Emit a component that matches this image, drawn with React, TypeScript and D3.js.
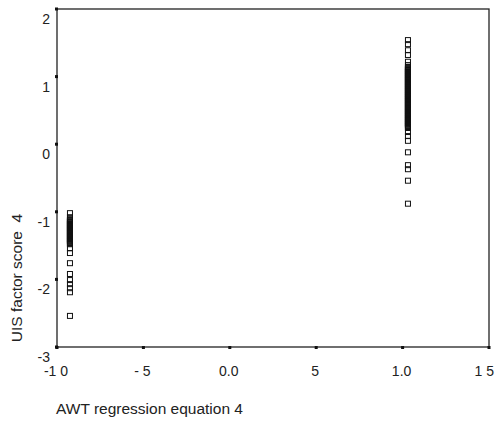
import React from "react";
import * as d3 from "d3";

const xTickValues = [-1, -0.5, 0, 0.5, 1, 1.5];
const xTickLabels = ["-1 0", "- 5", "0.0", "5", "1.0", "1 5"];
const yTickValues = [-3, -2, -1, 0, 1, 2];
const yTickLabels = ["-3", "-2", "-1", "0", "1", "2"];

const xTitle = "AWT regression equation 4";
const yTitle = "UIS factor score  4";

// group 1: AWT ≈ -0.925
const lowX = -0.925;
const lowScores = [
  -1.02, -1.08, -1.11, -1.12, -1.13, -1.14, -1.15, -1.16, -1.17, -1.18, -1.19,
  -1.2, -1.21, -1.22, -1.23, -1.24, -1.25, -1.26, -1.27, -1.28, -1.29, -1.3,
  -1.31, -1.32, -1.33, -1.34, -1.35, -1.36, -1.37, -1.38, -1.39, -1.4, -1.41,
  -1.42, -1.43, -1.44, -1.45, -1.46, -1.47, -1.48, -1.54, -1.61, -1.76, -1.92,
  -2.01, -2.07, -2.13, -2.19, -2.54,
];

// group 2: AWT ≈ 1.03
const highX = 1.031;
const highScores = [
  1.54, 1.48, 1.39, 1.32, 1.22, 1.17, 1.14, 1.13, 1.12, 1.11, 1.1, 1.09, 1.08,
  1.07, 1.06, 1.05, 1.04, 1.03, 1.02, 1.01, 1.0, 0.99, 0.98, 0.97, 0.96, 0.95,
  0.94, 0.93, 0.92, 0.91, 0.9, 0.89, 0.88, 0.87, 0.86, 0.85, 0.84, 0.83, 0.82,
  0.81, 0.8, 0.79, 0.78, 0.77, 0.76, 0.75, 0.74, 0.73, 0.72, 0.71, 0.7, 0.69,
  0.68, 0.67, 0.66, 0.65, 0.64, 0.63, 0.62, 0.61, 0.6, 0.59, 0.58, 0.57, 0.56,
  0.55, 0.54, 0.53, 0.52, 0.51, 0.5, 0.49, 0.48, 0.47, 0.46, 0.45, 0.44, 0.43,
  0.42, 0.41, 0.4, 0.39, 0.38, 0.37, 0.36, 0.35, 0.34, 0.33, 0.32, 0.31, 0.3,
  0.29, 0.28, 0.27, 0.26, 0.25, 0.24, 0.18, 0.12, 0.05, -0.12, -0.31, -0.37,
  -0.54, -0.88,
];

const W = 496;
const H = 423;
const L = 57, R = 489, T = 9, B = 347;

export default function App() {
  const x = d3.scaleLinear().domain([-1, 1.5]).range([L, R]);
  const y = d3.scaleLinear().domain([-3, 2]).range([B, T]);
  const pts = [
    ...lowScores.map((v) => ({ x: lowX, y: v })),
    ...highScores.map((v) => ({ x: highX, y: v })),
  ];
  const s = 5;
  const font = "'Liberation Sans', Arial, Helvetica, sans-serif";
  const last = xTickValues.length - 1;
  return (
    <svg
      width={W}
      height={H}
      style={{ position: "absolute", left: 0, top: 0, background: "#fff" }}
      fontFamily={font}
    >
      <rect x={0} y={0} width={W} height={H} fill="#fff" />
      <rect x={L} y={T} width={R - L} height={B - T} fill="none" stroke="#222" strokeWidth={1.3} />
      {yTickValues.map((v, i) => (
        <g key={"y" + i}>
          <rect x={L - 2} y={y(v) - 1.5} width={3} height={3} fill="#111" />
          <text x={50} y={y(v) + 10} dy="0.35em" textAnchor="end" fontSize={14} fill="#222">
            {yTickLabels[i]}
          </text>
        </g>
      ))}
      {xTickValues.map((v, i) => (
        <g key={"x" + i}>
          <rect x={x(v) - 1.5} y={B - 1} width={3} height={3} fill="#111" />
          <text
            x={i === last ? W - 2 : x(v) - 1}
            y={371}
            dy="0.35em"
            textAnchor={i === last ? "end" : "middle"}
            fontSize={14}
            fill="#222"
            style={{ whiteSpace: "pre" }}
          >
            {xTickLabels[i]}
          </text>
        </g>
      ))}
      {pts.map((p, i) => (
        <rect
          key={"p" + i}
          x={x(p.x) - s / 2}
          y={y(p.y) - s / 2}
          width={s}
          height={s}
          fill="none"
          stroke="#111"
          strokeWidth={1}
        />
      ))}
      <text x={56} y={409} dy="0.35em" fontSize={15.5} fill="#222">
        {xTitle}
      </text>
      <text
        transform={`translate(17,278) rotate(-90)`}
        dy="0.35em"
        textAnchor="middle"
        fontSize={15.5}
        fill="#222"
        style={{ whiteSpace: "pre" }}
      >
        {yTitle}
      </text>
    </svg>
  );
}
